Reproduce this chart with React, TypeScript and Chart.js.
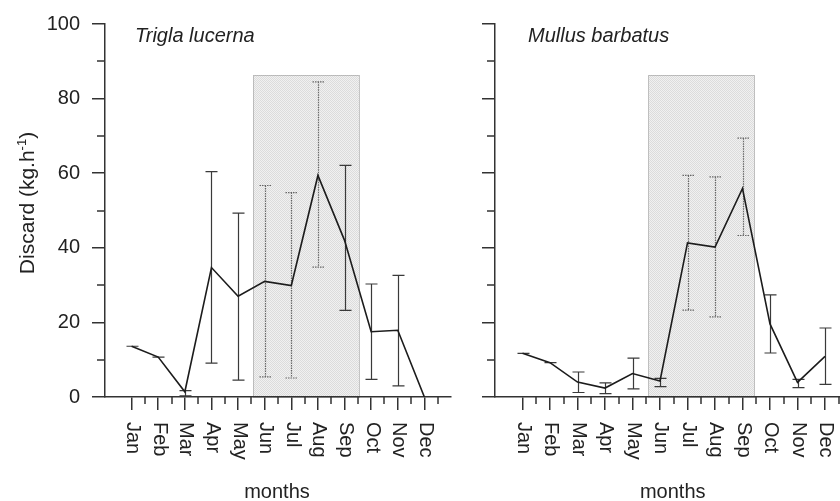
import React, { useEffect, useRef } from 'react';
import { Chart, registerables } from 'chart.js';
Chart.register(...registerables);

// ---------- data ----------
const months = ['Jan', 'Feb', 'Mar', 'Apr', 'May', 'Jun', 'Jul', 'Aug', 'Sep', 'Oct', 'Nov', 'Dec'];

const triglaMean = [13.6, 10.7, 1.4, 34.7, 27.0, 31.0, 29.9, 59.4, 42.0, 17.5, 17.9, 0];
const triglaUpper: (number | null)[] = [13.6, 10.7, 1.7, 60.4, 49.3, 56.7, 54.8, 84.5, 62.1, 30.3, 32.6, null];
const triglaLower: (number | null)[] = [13.6, 10.7, 0.3, 9.1, 4.5, 5.4, 5.1, 34.8, 23.2, 4.7, 3.0, null];

const mullusMean = [11.7, 9.2, 4.0, 2.4, 6.3, 4.3, 41.3, 40.2, 55.9, 19.6, 3.9, 10.9];
const mullusUpper: (number | null)[] = [11.7, 9.2, 6.7, 3.8, 10.4, 5.0, 59.4, 59.0, 69.4, 27.4, 4.7, 18.5];
const mullusLower: (number | null)[] = [11.7, 9.2, 1.2, 0.9, 2.2, 2.8, 23.3, 21.5, 43.3, 11.8, 2.5, 3.4];

// shaded season window: [from month, to month, top value]
const triglaShade = [5.57, 9.55, 86.3];
const mullusShade = [5.58, 9.44, 86.3];

// error bars drawn dotted (behind the shading)
const triglaDotted = ['Jun', 'Jul', 'Aug'];
const mullusDotted = ['Jul', 'Aug', 'Sep'];

const yMajorStep = 20;
const yMinorTicks = [10, 30, 50, 70, 90];
const xMinorTicks = months.map((_, i) => i + 1.5);

const xTitle = 'months';
const yTitle = 'Discard (kg.h';
const yTitleSup = '-1';

// ---------- styling ----------
const FONT = '"Liberation Sans", Arial, Helvetica, sans-serif';
const INK = '#222';
const AXIS = '#333';
const H = 501;
const AREA_TOP = 19;
const AREA_BOTTOM = 397;

type PanelCfg = {
  left: number;
  width: number;
  yAxisWidth: number;
  padRight: number;
  title: string;
  mean: number[];
  upper: (number | null)[];
  lower: (number | null)[];
  dotted: string[];
  shade: number[];
  showYLabels: boolean;
  showYTitle: boolean;
  titleOffset: number;
};

function makePattern(ctx: CanvasRenderingContext2D) {
  const c = document.createElement('canvas');
  c.width = 2;
  c.height = 2;
  const p = c.getContext('2d')!;
  p.fillStyle = '#f1f1f1';
  p.fillRect(0, 0, 2, 2);
  p.fillStyle = '#dcdcdc';
  p.fillRect(0, 0, 1, 1);
  p.fillRect(1, 1, 1, 1);
  return ctx.createPattern(c, 'repeat')!;
}

function panelPlugin(cfg: PanelCfg) {
  return {
    id: 'panelDecor',
    beforeDraw(chart: any) {
      const { ctx, scales } = chart;
      const x = scales.x, y = scales.y;
      const x0 = x.getPixelForValue(cfg.shade[0]);
      const x1 = x.getPixelForValue(cfg.shade[1]);
      const yt = y.getPixelForValue(cfg.shade[2]);
      const yb = y.getPixelForValue(0);
      ctx.save();
      ctx.fillStyle = makePattern(ctx);
      ctx.fillRect(x0, yt, x1 - x0, yb - yt);
      ctx.strokeStyle = '#8c8c8c';
      ctx.lineWidth = 1;
      ctx.setLineDash([1, 1]);
      ctx.strokeRect(Math.round(x0) + 0.5, Math.round(yt) + 0.5, Math.round(x1 - x0), Math.round(yb - yt));
      ctx.restore();
    },
    beforeDatasetsDraw(chart: any) {
      const { ctx, scales } = chart;
      const x = scales.x, y = scales.y;
      ctx.save();
      months.forEach((m, i) => {
        const hi = cfg.upper[i], lo = cfg.lower[i];
        if (hi == null || lo == null) return;
        const px = Math.round(x.getPixelForValue(i + 1)) + 0.5;
        const pyh = y.getPixelForValue(hi);
        const pyl = y.getPixelForValue(lo);
        const dotted = cfg.dotted.includes(m);
        ctx.strokeStyle = dotted ? '#666' : '#3a3a3a';
        ctx.lineWidth = 1.2;
        ctx.setLineDash(dotted ? [1.5, 1] : []);
        ctx.beginPath();
        ctx.moveTo(px, pyh);
        ctx.lineTo(px, pyl);
        ctx.moveTo(px - 6, pyh);
        ctx.lineTo(px + 6, pyh);
        ctx.moveTo(px - 6, pyl);
        ctx.lineTo(px + 6, pyl);
        ctx.stroke();
      });
      ctx.restore();
    },
    afterDraw(chart: any) {
      const { ctx, scales, chartArea } = chart;
      const x = scales.x, y = scales.y;
      ctx.save();
      // minor ticks
      ctx.strokeStyle = AXIS;
      ctx.lineWidth = 1.5;
      ctx.beginPath();
      yMinorTicks.forEach((v) => {
        const py = Math.round(y.getPixelForValue(v));
        ctx.moveTo(chartArea.left - 8, py);
        ctx.lineTo(chartArea.left, py);
      });
      xMinorTicks.forEach((v) => {
        const px = Math.round(x.getPixelForValue(v));
        ctx.moveTo(px, chartArea.bottom);
        ctx.lineTo(px, chartArea.bottom + 7);
      });
      ctx.stroke();

      // month labels, rotated clockwise
      ctx.fillStyle = INK;
      ctx.font = `20px ${FONT}`;
      ctx.textAlign = 'left';
      ctx.textBaseline = 'middle';
      months.forEach((m, i) => {
        const px = x.getPixelForValue(i + 1);
        ctx.save();
        ctx.translate(px + 1, chartArea.bottom + 25);
        ctx.rotate(Math.PI / 2);
        ctx.fillText(m, 0, 0);
        ctx.restore();
      });

      // x title
      ctx.textAlign = 'center';
      ctx.textBaseline = 'alphabetic';
      ctx.fillText(xTitle, (chartArea.left + chartArea.right) / 2 - 1, 498);

      // panel title
      ctx.font = `italic 20px ${FONT}`;
      ctx.textAlign = 'left';
      ctx.fillText(cfg.title, chartArea.left + cfg.titleOffset, 42);

      // y title
      if (cfg.showYTitle) {
        const big = `21px ${FONT}`;
        const small = `13px ${FONT}`;
        ctx.font = big;
        const w1 = ctx.measureText(yTitle).width;
        const w3 = ctx.measureText(')').width;
        ctx.font = small;
        const w2 = ctx.measureText(yTitleSup).width;
        const W = w1 + w2 + w3;
        ctx.save();
        ctx.translate(34, 203);
        ctx.rotate(-Math.PI / 2);
        ctx.textAlign = 'left';
        ctx.font = big;
        ctx.fillText(yTitle, -W / 2, 0);
        ctx.font = small;
        ctx.fillText(yTitleSup, -W / 2 + w1, -8);
        ctx.font = big;
        ctx.fillText(')', -W / 2 + w1 + w2, 0);
        ctx.restore();
      }
      ctx.restore();
    },
  };
}

function Panel({ cfg }: { cfg: PanelCfg }) {
  const ref = useRef<HTMLCanvasElement>(null);
  useEffect(() => {
    const canvas = ref.current!;
    const chart = new Chart(canvas, {
      type: 'line',
      data: {
        datasets: [
          {
            data: cfg.mean.map((v, i) => ({ x: i + 1, y: v })),
            borderColor: '#1c1c1c',
            borderWidth: 1.6,
            pointRadius: 0,
            tension: 0,
            fill: false,
          },
        ],
      },
      options: {
        responsive: false,
        animation: false,
        devicePixelRatio: 1,
        layout: { padding: { left: 0, top: AREA_TOP, right: cfg.padRight, bottom: 0 } },
        plugins: { legend: { display: false }, tooltip: { enabled: false } },
        scales: {
          x: {
            type: 'linear',
            min: 0,
            max: 13,
            afterBuildTicks: (s: any) => {
              s.ticks = months.map((_, i) => ({ value: i + 1 }));
            },
            afterFit: (s: any) => {
              s.height = H - AREA_BOTTOM;
            },
            ticks: { display: false, autoSkip: false },
            grid: {
              drawOnChartArea: false,
              drawTicks: true,
              tickLength: 13,
              color: AXIS,
              lineWidth: 1.5,
              tickWidth: 1.5,
            },
            border: { display: true, color: AXIS, width: 1.5 },
          },
          y: {
            type: 'linear',
            min: 0,
            max: 100,
            afterFit: (s: any) => {
              s.width = cfg.yAxisWidth;
            },
            ticks: {
              stepSize: yMajorStep,
              color: INK,
              padding: 12,
              font: { family: FONT, size: 20 },
              callback: (v: any) => (cfg.showYLabels ? String(v) : ''),
            },
            grid: {
              drawOnChartArea: false,
              drawTicks: true,
              tickLength: 13,
              color: AXIS,
              lineWidth: 1.5,
              tickWidth: 1.5,
            },
            border: { display: true, color: AXIS, width: 1.5 },
          },
        },
      },
      plugins: [panelPlugin(cfg)],
    } as any);
    return () => chart.destroy();
  }, []);
  return (
    <canvas
      ref={ref}
      width={cfg.width}
      height={H}
      style={{ position: 'absolute', left: cfg.left, top: 0, width: cfg.width, height: H }}
    />
  );
}

const leftCfg: PanelCfg = {
  left: 0,
  width: 470,
  yAxisWidth: 105,
  padRight: 19,
  title: 'Trigla lucerna',
  mean: triglaMean,
  upper: triglaUpper,
  lower: triglaLower,
  dotted: triglaDotted,
  shade: triglaShade,
  showYLabels: true,
  showYTitle: true,
  titleOffset: 30,
};

const rightCfg: PanelCfg = {
  left: 470,
  width: 400,
  yAxisWidth: 25,
  padRight: 17.5,
  title: 'Mullus barbatus',
  mean: mullusMean,
  upper: mullusUpper,
  lower: mullusLower,
  dotted: mullusDotted,
  shade: mullusShade,
  showYLabels: false,
  showYTitle: false,
  titleOffset: 33,
};

export default function App() {
  return (
    <div
      style={{
        position: 'absolute',
        left: 0,
        top: 0,
        width: 840,
        height: H,
        overflow: 'hidden',
        background: '#fff',
      }}
    >
      <Panel cfg={leftCfg} />
      <Panel cfg={rightCfg} />
    </div>
  );
}
